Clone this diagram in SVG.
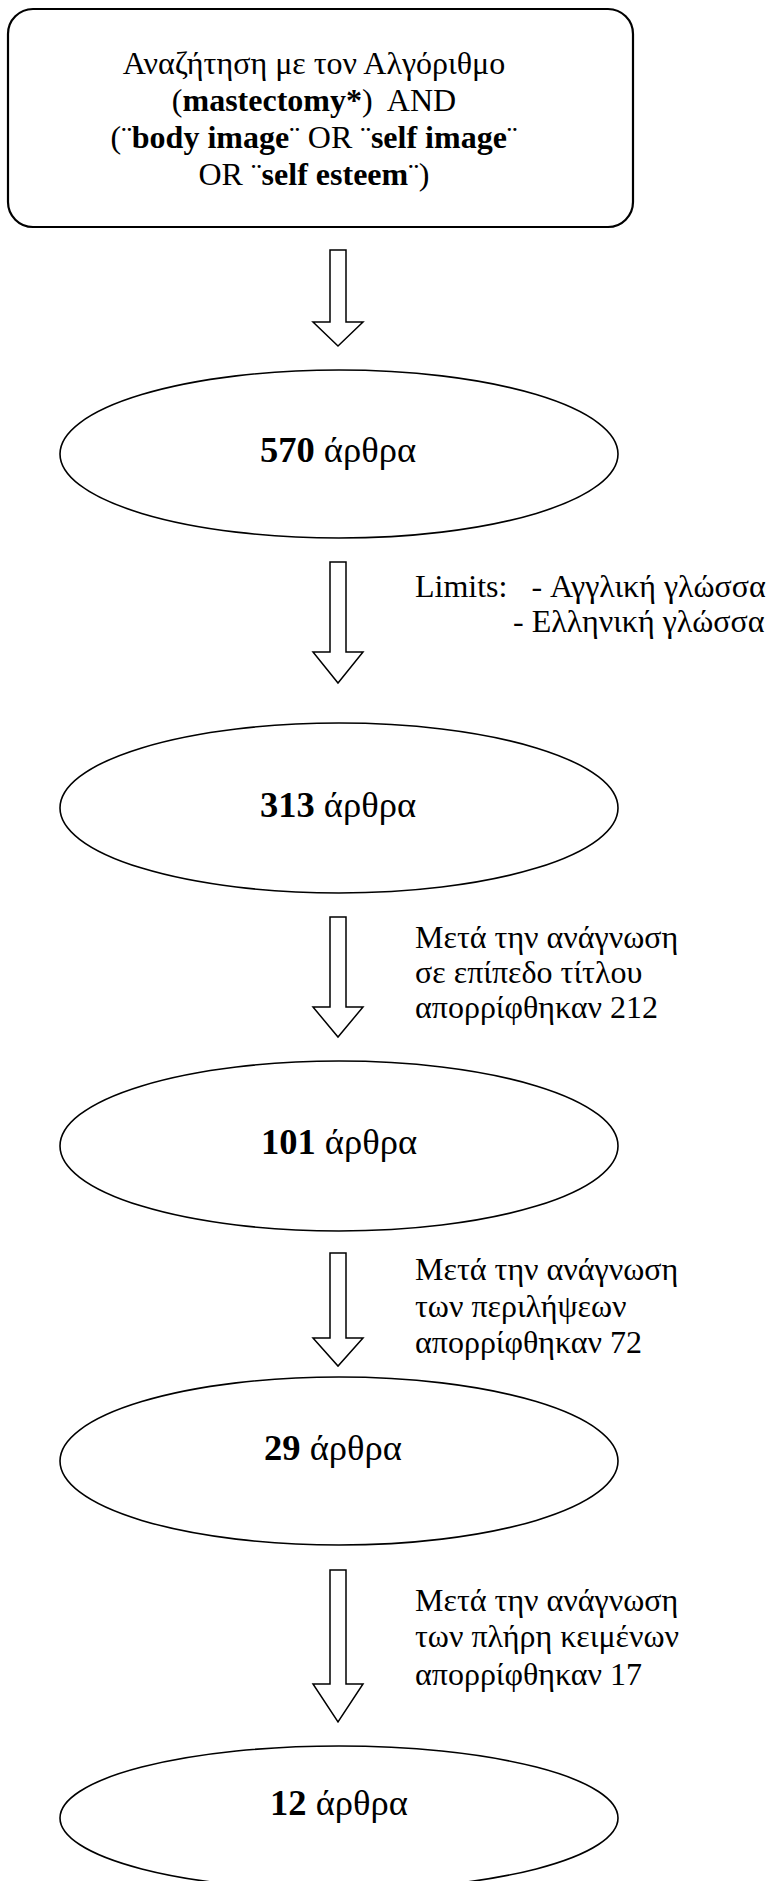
<svg xmlns="http://www.w3.org/2000/svg" width="771" height="1881" viewBox="0 0 771 1881">
<style>
text{font-family:"Liberation Serif","Times New Roman",serif;font-size:32px;fill:#000;white-space:pre}
.c{text-anchor:middle}
.b{font-weight:bold}
.lbl{font-size:36.5px}
.node{fill:#fff;stroke:#000;stroke-width:1.6}
.box{fill:#fff;stroke:#000;stroke-width:2.2}
.arrow{fill:#fff;stroke:#000;stroke-width:1.5;stroke-linejoin:miter}
</style>
<rect width="771" height="1881" fill="#fff"/>
<g id="connectors">
<path class="arrow" d="M330,250 H346 V322 H363 L338,346 L313,322 H330 Z"/>
<path class="arrow" d="M330,562 H346 V652 H363 L338,683 L313,652 H330 Z"/>
<path class="arrow" d="M330,917 H346 V1007 H363 L338,1037 L313,1007 H330 Z"/>
<path class="arrow" d="M330,1253 H346 V1338 H363 L338,1366 L313,1338 H330 Z"/>
<path class="arrow" d="M330,1570 H346 V1684 H363 L338,1722 L313,1684 H330 Z"/>
<text x="415" y="597">Limits:   - Αγγλική γλώσσα</text>
<text x="513" y="632">- Ελληνική γλώσσα</text>
<text x="415" y="948">Μετά την ανάγνωση</text>
<text x="415" y="983">σε επίπεδο τίτλου</text>
<text x="415" y="1018">απορρίφθηκαν 212</text>
<text x="415" y="1280">Μετά την ανάγνωση</text>
<text x="415" y="1317">των περιλήψεων</text>
<text x="415" y="1353">απορρίφθηκαν 72</text>
<text x="415" y="1611">Μετά την ανάγνωση</text>
<text x="415" y="1647">των πλήρη κειμένων</text>
<text x="415" y="1685">απορρίφθηκαν 17</text>
</g>
<g id="search">
<rect class="box" x="8" y="9" width="625" height="218" rx="25" ry="25"/>
<text class="c" x="314" y="74">Αναζήτηση με τον Αλγόριθμο</text>
<text class="c" x="314" y="111">(<tspan class="b">mastectomy*</tspan>)  AND</text>
<text class="c" x="314" y="148">(¨<tspan class="b">body image</tspan>¨ OR ¨<tspan class="b">self image</tspan>¨</text>
<text class="c" x="314" y="185">OR ¨<tspan class="b">self esteem</tspan>¨)</text>
</g>
<g id="n570">
<ellipse class="node" cx="339" cy="454" rx="279" ry="84"/>
<text class="c lbl" x="338" y="462"><tspan class="b">570</tspan> άρθρα</text>
</g>
<g id="n313">
<ellipse class="node" cx="339" cy="808" rx="279" ry="85"/>
<text class="c lbl" x="338" y="817"><tspan class="b">313</tspan> άρθρα</text>
</g>
<g id="n101">
<ellipse class="node" cx="339" cy="1146" rx="279" ry="85"/>
<text class="c lbl" x="339" y="1154"><tspan class="b">101</tspan> άρθρα</text>
</g>
<g id="n29">
<ellipse class="node" cx="339" cy="1461" rx="279" ry="84"/>
<text class="c lbl" x="333" y="1460"><tspan class="b">29</tspan> άρθρα</text>
</g>
<g id="n12">
<ellipse class="node" cx="339" cy="1818" rx="279" ry="72"/>
<text class="c lbl" x="339" y="1815"><tspan class="b">12</tspan> άρθρα</text>
</g>
</svg>
